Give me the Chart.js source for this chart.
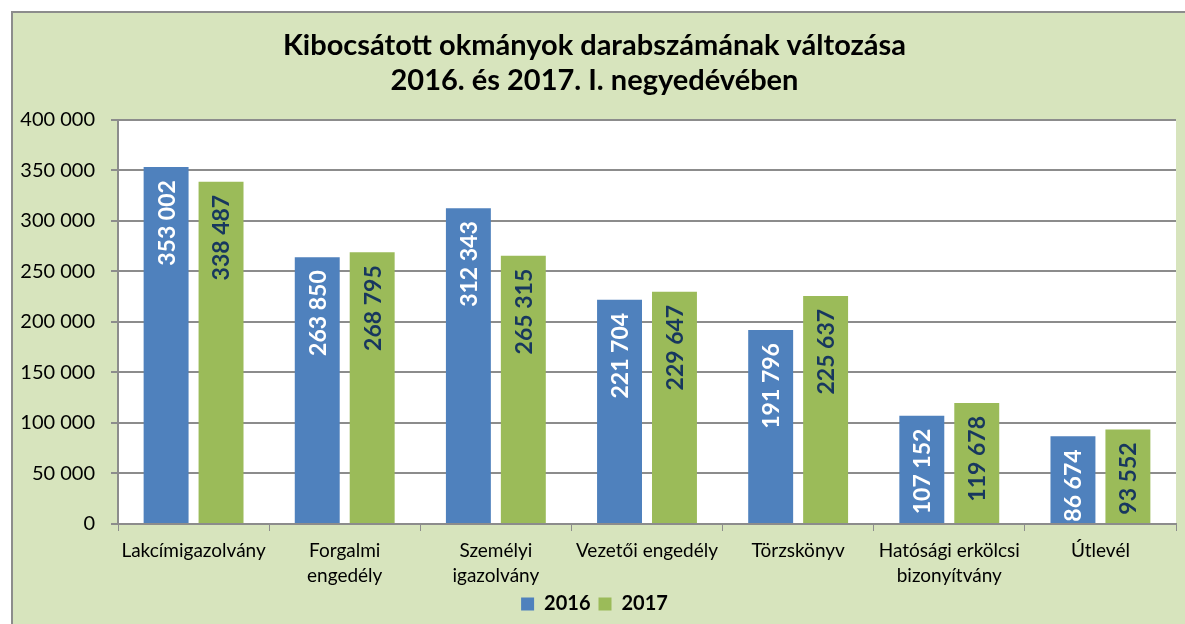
<!DOCTYPE html>
<html>
<head>
<meta charset="utf-8">
<script src="https://cdn.jsdelivr.net/npm/chart.js@4.4.1/dist/chart.umd.min.js"></script>
<style>
  html, body { margin: 0; padding: 0; background: #fff; overflow: hidden; }
  #wrap {
    position: absolute; left: 11px; top: 11px;
    width: 1174px; height: 613px;
    border-top: 2px solid #8c8c8c; border-left: 2px solid #8c8c8c;
    background: #d7e4bd;
  }
</style>
</head>
<body>
<div id="wrap"><canvas id="myChart" width="1172" height="611"></canvas></div>
<script>
// Data for chart
const categories = [
  'Lakcímigazolvány',
  ['Forgalmi', 'engedély'],
  ['Személyi', 'igazolvány'],
  'Vezetői engedély',
  'Törzskönyv',
  ['Hatósági erkölcsi', 'bizonyítvány'],
  'Útlevél'
];
const values2016 = [353002, 263850, 312343, 221704, 191796, 107152, 86674];
const values2017 = [338487, 268795, 265315, 229647, 225637, 119678, 93552];
const seriesNames = ['2016', '2017'];
const yTicks = [0, 50000, 100000, 150000, 200000, 250000, 300000, 350000, 400000];

const FONT = 'Lato, "Open Sans", sans-serif';

function spaced(v) {
  return String(v).replace(/\B(?=(\d{3})+(?!\d))/g, ' ');
}

// green background + white plot area
const backgroundPlugin = {
  id: 'bg',
  beforeDraw(chart) {
    const { ctx, chartArea: a } = chart;
    ctx.save();
    ctx.fillStyle = '#d7e4bd';
    ctx.fillRect(0, 0, chart.width, chart.height);
    ctx.fillStyle = '#ffffff';
    ctx.fillRect(a.left, a.top, a.right - a.left, a.bottom - a.top);
    ctx.restore();
  }
};

// vertical value labels inside the top of each bar
const labelPlugin = {
  id: 'barLabels',
  afterDatasetsDraw(chart) {
    const { ctx, chartArea: a } = chart;
    ctx.save();
    ctx.beginPath();
    ctx.rect(a.left, a.top, a.right - a.left, a.bottom - a.top);
    ctx.clip();
    ctx.font = 'bold 23px ' + FONT;
    chart.data.datasets.forEach((ds, i) => {
      const meta = chart.getDatasetMeta(i);
      ctx.fillStyle = i === 0 ? '#ffffff' : '#17375e';
      meta.data.forEach((bar, j) => {
        ctx.save();
        ctx.translate(bar.x, bar.y + 13);
        ctx.rotate(-Math.PI / 2);
        ctx.textAlign = 'right';
        ctx.textBaseline = 'middle';
        ctx.fillText(spaced(ds.data[j]), 0, 1);
        ctx.restore();
      });
    });
    ctx.restore();
  }
};

const chartConfig = {
  type: 'bar',
  data: {
    labels: categories,
    datasets: [
      { label: seriesNames[0], data: values2016, backgroundColor: '#4f81bd' },
      { label: seriesNames[1], data: values2017, backgroundColor: '#9bbb59' }
    ]
  },
  options: {
    responsive: false,
    animation: false,
    layout: { padding: { left: 0, right: 9, top: 0, bottom: 0 } },
    datasets: {
      bar: { categoryPercentage: 0.727, barPercentage: 0.818 }
    },
    scales: {
      x: {
        afterFit(axis) { axis.height = 62; },
        grid: { drawOnChartArea: false, drawTicks: true, tickLength: 7, color: '#8c8c8c' },
        border: { color: '#8c8c8c', width: 2 },
        ticks: {
          color: '#000',
          font: { family: FONT, size: 19, lineHeight: 1.3 },
          padding: 8, maxRotation: 0, autoSkip: false
        }
      },
      y: {
        min: 0,
        max: 400000,
        afterBuildTicks(axis) { axis.ticks = yTicks.map(v => ({ value: v })); },
        afterFit(axis) { axis.width = 105; },
        grid: { color: '#8c8c8c', lineWidth: 2, tickLength: 7 },
        border: { color: '#8c8c8c', width: 2 },
        ticks: {
          color: '#000',
          font: { family: FONT, size: 20 },
          padding: 16,
          callback: v => spaced(v)
        }
      }
    },
    plugins: {
      title: {
        display: true,
        text: ['Kibocsátott okmányok darabszámának változása', '2016. és 2017. I. negyedévében'],
        color: '#000',
        font: { family: FONT, size: 29, weight: 'bold', lineHeight: 1.2 },
        padding: { top: 15, bottom: 22 }
      },
      legend: {
        position: 'bottom',
        labels: {
          color: '#000',
          font: { family: FONT, size: 20, weight: 'bold' },
          boxWidth: 13,
          boxHeight: 13,
          padding: 8
        }
      },
      tooltip: { enabled: false }
    }
  },
  plugins: [backgroundPlugin, labelPlugin]
};

const ctx = document.getElementById('myChart').getContext('2d');
const myChart = new Chart(ctx, chartConfig);
</script>
</body>
</html>
